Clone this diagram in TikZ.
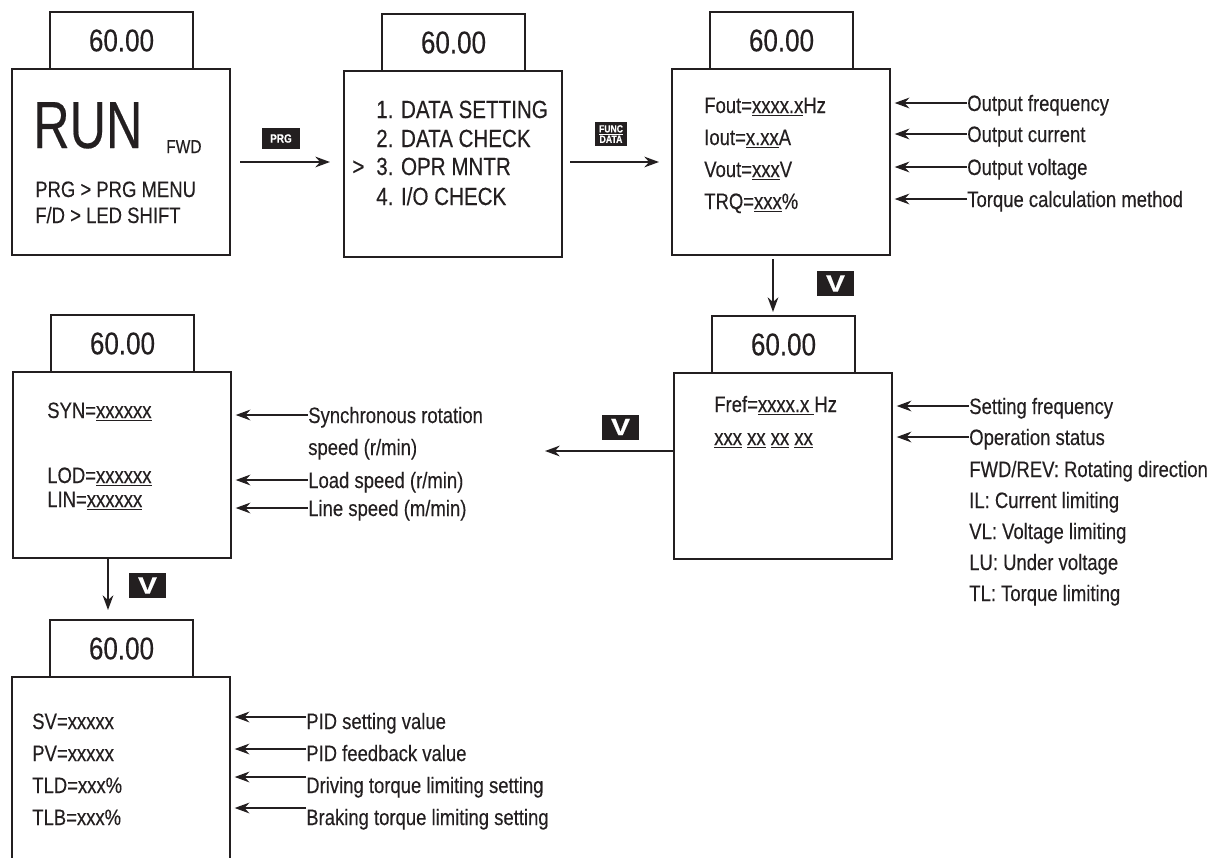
\documentclass[tikz,border=0pt]{standalone}
\usepackage{fontspec}
\setmainfont{Liberation Sans}[FakeStretch=0.83, FakeBold=0.3]
\usepackage{xcolor}
\usepackage{tikz}
\usetikzlibrary{positioning, arrows.meta}
\definecolor{ink}{HTML}{231F20}

\begin{document}
\begin{tikzpicture}[
    x=0.75pt, y=-0.75pt, color=ink,
    screen/.style={draw, line width=1.6pt, outer sep=0pt, inner sep=0pt, minimum width=163.5pt, minimum height=139.5pt, anchor=north west},
    tab/.style={draw, line width=1.6pt, outer sep=0pt, minimum width=107.25pt, minimum height=42.75pt, anchor=south west, font=\fontsize{23.5}{26}\selectfont},
    txt/.style={anchor=base west, inner sep=0pt, font=\fontsize{16.7}{20}\selectfont},
    menutxt/.style={txt, font=\fontsize{18.6}{22}\selectfont},
    lbl/.style={txt, anchor=west, text height=12pt, text depth=0pt},
    key/.style={fill=ink, text=white, inner sep=0pt, align=center, font=\bfseries\fontsize{9}{9}\selectfont},
    vkey/.style={fill=ink, text=white, inner sep=0pt, minimum width=27.75pt, minimum height=18.75pt, font=\bfseries\fontsize{17.8}{18}\selectfont},
    arr/.style={-{Stealth[length=11pt, width=8pt]}, line width=1.5pt},
]
    \useasboundingbox (0,0) rectangle (1221,857);
    \clip (0,0) rectangle (1221,857);

    % Screen 1: running
    \node[screen] (run) at (12,69) {};
    \node[tab] (runtab) at ([xshift=28.5pt]run.north west) {60.00};
    \node[txt, font=\fontsize{50}{50}\selectfont] (runtxt) at (33,148) {\scalebox{0.91}[1]{RUN}};
    \node[txt, font=\fontsize{14}{15}\selectfont] (fwd) at (166,153) {FWD};
    \node[txt] (prgmenu) at (35,197) {PRG > PRG MENU};
    \node[txt] (ledshift) at (35,223) {F/D > LED SHIFT};

    % Screen 2: menu
    \node[screen] (menu) at (344,71) {};
    \node[tab] (menutab) at ([xshift=28.5pt]menu.north west) {60.00};
    \node[menutxt] (m1) at (376,118) {1. DATA SETTING};
    \node[menutxt] (m2) at (376,147) {2. DATA CHECK};
    \node[menutxt] (cursor) at (352,175) {>};
    \node[menutxt] (m3) at (376,175) {3. OPR MNTR};
    \node[menutxt] (m4) at (376,205) {4. I/O CHECK};

    % Screen 3: operation monitor
    \node[screen] (mon1) at (672,69) {};
    \node[tab] (mon1tab) at ([xshift=28.5pt]mon1.north west) {60.00};
    \node[txt] (fout) at (704,113) {Fout=\underline{xxxx.x}Hz};
    \node[txt] (iout) at (704,145) {Iout=\underline{x.xx}A};
    \node[txt] (vout) at (704,177) {Vout=\underline{xxx}V};
    \node[txt] (trq) at (704,209) {TRQ=\underline{xxx}\%};
    \node[lbl] (lfout) at (967,103) {Output frequency};
    \node[lbl] (liout) at (967,134) {Output current};
    \node[lbl] (lvout) at (967,167) {Output voltage};
    \node[lbl] (ltrq) at (967,199) {Torque calculation method};

    % Screen 4: reference and status
    \node[screen] (mon2) at (674,373) {};
    \node[tab] (mon2tab) at ([xshift=28.5pt]mon2.north west) {60.00};
    \node[txt] (fref) at (714,412) {Fref=\underline{xxxx.x }Hz};
    \node[txt] (stat) at (714,445) {\underline{xxx} \underline{xx} \underline{xx} \underline{xx}};
    \node[lbl] (lfref) at (969,406) {Setting frequency};
    \node[lbl] (lstat) at (969,437) {Operation status};
    \node[txt] (s1) at (969,477) {FWD/REV: Rotating direction};
    \node[txt] (s2) at (969,508) {IL: Current limiting};
    \node[txt] (s3) at (969,539) {VL: Voltage limiting};
    \node[txt] (s4) at (969,570) {LU: Under voltage};
    \node[txt] (s5) at (969,601) {TL: Torque limiting};

    % Screen 5: speeds
    \node[screen] (spd) at (13,372) {};
    \node[tab] (spdtab) at ([xshift=28.5pt]spd.north west) {60.00};
    \node[txt] (syn) at (47,418) {SYN=\underline{xxxxxx}};
    \node[txt] (lod) at (47,483) {LOD=\underline{xxxxxx}};
    \node[txt] (lin) at (47,507) {LIN=\underline{xxxxxx}};
    \node[lbl] (lsyn) at (308,415) {Synchronous rotation};
    \node[txt] (lsyn2) at (308,455) {speed (r/min)};
    \node[lbl] (llod) at (308,480) {Load speed (r/min)};
    \node[lbl] (llin) at (308,508) {Line speed (m/min)};

    % Screen 6: PID and torque limits
    \node[screen] (pid) at (12,677) {};
    \node[tab] (pidtab) at ([xshift=28.5pt]pid.north west) {60.00};
    \node[txt] (sv) at (32,729) {SV=xxxxx};
    \node[txt] (pv) at (32,761) {PV=xxxxx};
    \node[txt] (tld) at (32,793) {TLD=xxx\%};
    \node[txt] (tlb) at (32,825) {TLB=xxx\%};
    \node[lbl, anchor=base west] (lsv) at (306,729) {PID setting value};
    \node[lbl, anchor=base west] (lpv) at (306,761) {PID feedback value};
    \node[lbl, anchor=base west] (ltld) at (306,793) {Driving torque limiting setting};
    \node[lbl, anchor=base west] (ltlb) at (306,825) {Braking torque limiting setting};

    % Keys
    \node[key, minimum width=28.5pt, minimum height=15.75pt] (kprg) at (281,138.5) {PRG};
    \node[key, minimum width=24pt, minimum height=18pt, font=\bfseries\fontsize{7.8}{7.8}\selectfont] (kfunc) at (611,134) {\underline{FUNC}\\DATA};
    \node[vkey] (kdown1) at (835.5,283.5) {\scalebox{1.45}[1]{V}};
    \node[vkey] (kleft) at (620.5,427) {\scalebox{1.45}[1]{V}};
    \node[vkey] (kdown2) at (147.5,585.5) {\scalebox{1.45}[1]{V}};
    \coordinate (lend) at (545,451);

    % Arrows
    \draw[arr] ([xshift=7.5pt]run.east) -- ([xshift=-10.5pt]run.east -| menu.west);
    \draw[arr] ([xshift=6pt]menu.east |- mon1.west) -- ([xshift=-9.75pt]mon1.west);
    \draw[arr] ([xshift=-6pt, yshift=-3pt]mon1.south) -- ([xshift=-6pt, yshift=3pt]mon1.south |- mon2tab.north);
    \draw[arr] (mon2.west |- lend) -- (lend);
    \draw[arr] ([xshift=-10.5pt]spd.south) -- ([xshift=-10.5pt, yshift=7.5pt]spd.south |- pidtab.north);
    \foreach \l/\b in {lfout/mon1, liout/mon1, lvout/mon1, ltrq/mon1, lfref/mon2, lstat/mon2, lsyn/spd, llod/spd, llin/spd}
        \draw[arr] (\l.west) -- ([xshift=3.5pt]\l.west -| \b.east);
    \foreach \l/\dy in {lsv/3pt, lpv/3pt, ltld/6pt, ltlb/6.75pt}
        \draw[arr] ([yshift=\dy]\l.west) -- ([xshift=3.5pt, yshift=\dy]\l.west -| pid.east);

\end{tikzpicture}
\end{document}
